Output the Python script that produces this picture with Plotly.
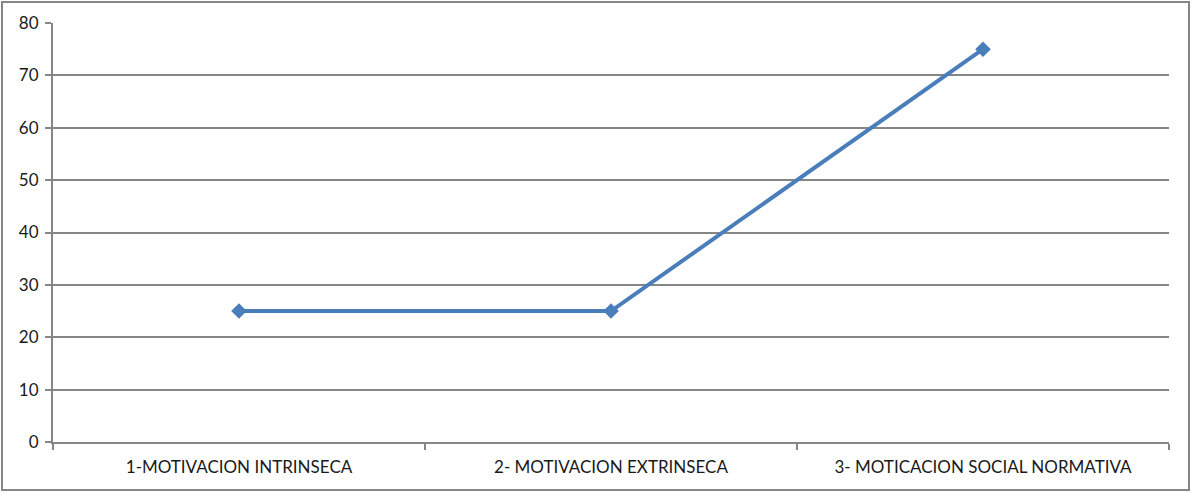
import plotly.graph_objects as go

categories = ["1-MOTIVACION INTRINSECA", "2- MOTIVACION EXTRINSECA", "3- MOTICACION SOCIAL NORMATIVA"]
values = [25, 25, 75]

W, H = 1192, 493
ML, MR, MT, MB = 53, 23, 23, 51
pw = W - ML - MR
ph = H - MT - MB

fig = go.Figure(
    go.Scatter(
        x=categories,
        y=values,
        mode="lines+markers",
        line=dict(color="#4A7EBB", width=4),
        marker=dict(symbol="diamond", size=12, color="#4A7EBB"),
        showlegend=False,
    )
)

axis_gray = "#868686"
font = dict(family="Lato, 'Open Sans', sans-serif", size=17, color="#1a1a1a")

fig.update_layout(
    width=W,
    height=H,
    margin=dict(l=ML, r=MR, t=MT, b=MB),
    paper_bgcolor="white",
    plot_bgcolor="white",
    font=font,
    xaxis=dict(
        type="category",
        range=[-0.5, 2.5],
        showgrid=False,
        showline=True,
        linecolor=axis_gray,
        linewidth=2,
        ticks="outside",
        tickson="boundaries",
        ticklen=6,
        tickcolor=axis_gray,
        tickwidth=2,
        ticklabelstandoff=9,
        fixedrange=True,
    ),
    yaxis=dict(
        range=[0, 80],
        dtick=10,
        showgrid=True,
        gridcolor=axis_gray,
        gridwidth=2,
        zeroline=False,
        showline=True,
        linecolor=axis_gray,
        linewidth=2,
        ticks="outside",
        ticklen=6,
        tickcolor=axis_gray,
        tickwidth=2,
        ticklabelstandoff=3,
        fixedrange=True,
    ),
)

# Outer chart border
fig.add_shape(
    type="rect",
    xref="paper",
    yref="paper",
    x0=(2 - ML) / pw,
    x1=(1189 - ML) / pw,
    y0=(H - MB - 490) / ph,
    y1=(H - MB - 2) / ph,
    line=dict(color=axis_gray, width=2),
    layer="below",
)

fig.write_html("out.html")
